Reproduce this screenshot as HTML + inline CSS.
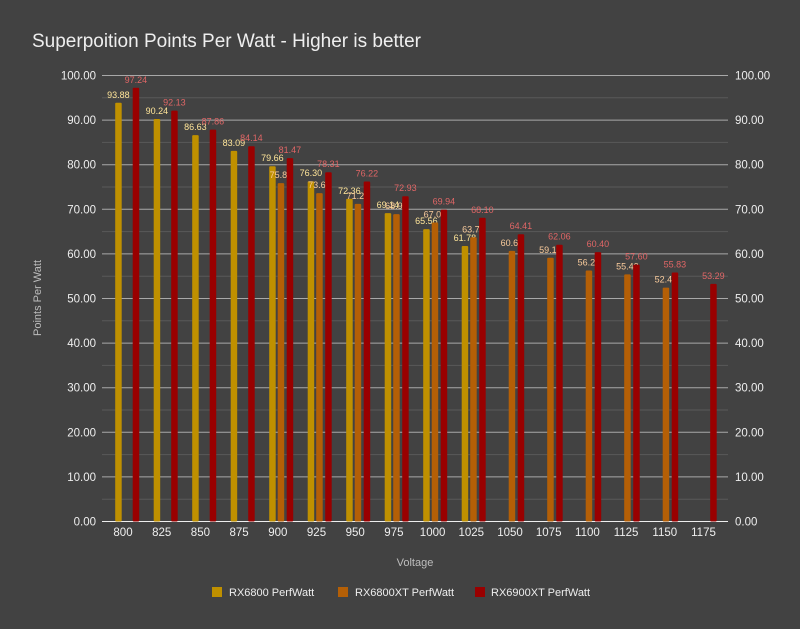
<!DOCTYPE html>
<html><head><meta charset="utf-8"><style>
html,body{margin:0;padding:0;background:#424242;}
svg{display:block;font-family:"Liberation Sans",Arial,sans-serif;}
</style></head><body>
<svg width="800" height="629" xmlns="http://www.w3.org/2000/svg" id="s">
<rect width="800" height="629" fill="#424242"/>
<text x="32" y="47" font-size="19" fill="#eeeeee">Superpoition Points Per Watt - Higher is better</text>
<g id="grid"></g>
<g id="bars"></g>
<text x="415" y="566" font-size="11" fill="#bdbdbd" text-anchor="middle">Voltage</text>
<text transform="translate(41,298) rotate(-90)" font-size="11" fill="#bdbdbd" text-anchor="middle">Points Per Watt</text>
<rect x="212" y="587" width="10" height="10" fill="#bf9000"/>
<text x="229" y="596" font-size="11" fill="#eeeeee">RX6800 PerfWatt</text>
<rect x="338" y="587" width="10" height="10" fill="#b45f06"/>
<text x="355" y="596" font-size="11" fill="#eeeeee">RX6800XT PerfWatt</text>
<rect x="475" y="587" width="10" height="10" fill="#990000"/>
<text x="491" y="596" font-size="11" fill="#eeeeee">RX6900XT PerfWatt</text>
</svg>
<script>
var NS="http://www.w3.org/2000/svg";
function el(p,t,a,txt){var e=document.createElementNS(NS,t);for(var k in a)e.setAttribute(k,a[k]);if(txt!=null)e.textContent=txt;p.appendChild(e);return e;}
var g=document.getElementById('grid'),b=document.getElementById('bars');
function Y(v){return 521.5-4.46*v;}
for(var v=0;v<=100;v+=5){
  var y=Y(v);
  if(v%10==0){
    el(g,'line',{x1:102,x2:728,y1:y,y2:y,stroke:v==0?'#eeeeee':'#a8a8a8','stroke-width':1});
    el(g,'text',{x:96,y:y+4,'font-size':11.5,fill:'#eeeeee','text-anchor':'end'},v.toFixed(2));
    el(g,'text',{x:735,y:y+4,'font-size':11.5,fill:'#eeeeee'},v.toFixed(2));
  } else el(g,'line',{x1:102,x2:728,y1:y,y2:y,stroke:'#595959','stroke-width':1});
}
var cats=[800,825,850,875,900,925,950,975,1000,1025,1050,1075,1100,1125,1150,1175];
var ye=[93.88,90.24,86.63,83.09,79.66,76.30,72.36,69.14,65.56,61.78];
var or=[null,null,null,null,75.87,73.63,71.22,68.92,67.05,63.72,60.69,59.13,56.28,55.42,52.45];
var rd=[97.24,92.13,87.86,84.14,81.47,78.31,76.22,72.93,69.94,68.10,64.41,62.06,60.40,57.60,55.83,53.29];
var ser=[[ye,-17.5,'#bf9000','#ffe599'],[or,-9,'#b45f06','#f9cb9c'],[rd,0,'#990000','#e06666']];
for(var i=0;i<16;i++){
  var rl=132.7+38.5*i;
  el(b,'text',{x:123+38.7*i,y:536,'font-size':11.5,fill:'#eeeeee','text-anchor':'middle'},cats[i]);
  ser.forEach(function(s){
    var v=s[0][i]; if(v==null)return;
    var x=rl+s[1];
    el(b,'rect',{x:x,y:Y(v),width:6.5,height:521.5-Y(v),fill:s[2],rx:1});
    el(b,'text',{x:x+3.2,y:Y(v)-5,'font-size':9,fill:s[3],'text-anchor':'middle'},v.toFixed(2));
  });
}
</script>
</body></html>
